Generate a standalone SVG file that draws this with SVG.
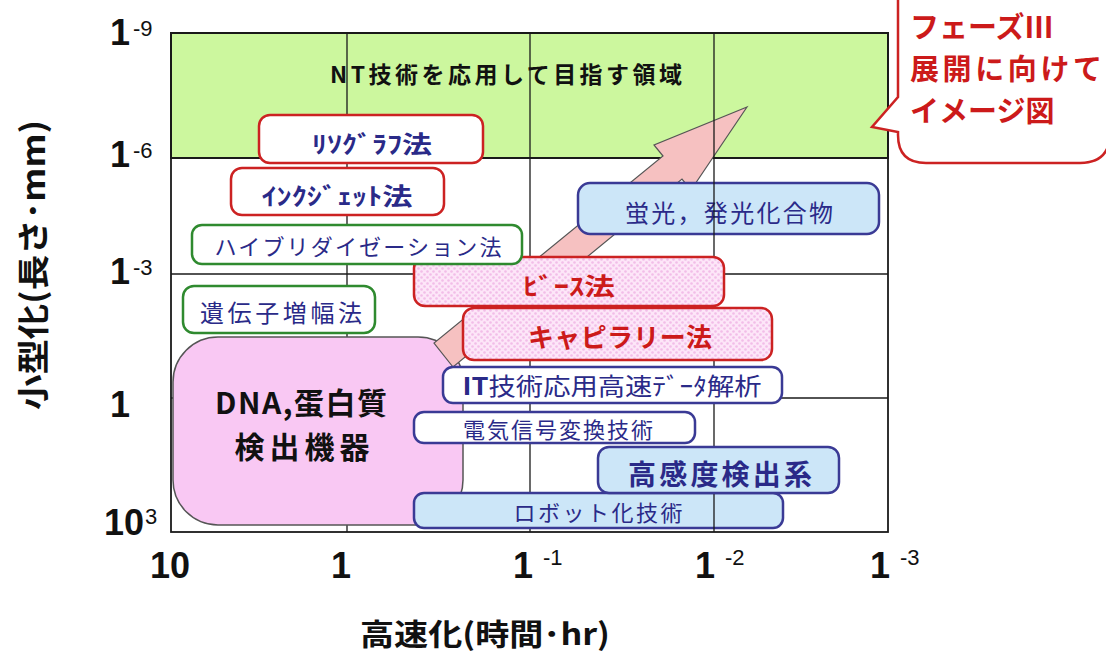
<svg xmlns="http://www.w3.org/2000/svg" width="1106" height="655" viewBox="0 0 1106 655">
<defs>
<pattern id="dots" width="6" height="6" patternUnits="userSpaceOnUse"><rect width="6" height="6" fill="#fde6f8"/><circle cx="1.5" cy="1.5" r="1.3" fill="#f2bde8"/><circle cx="4.5" cy="4.5" r="1.3" fill="#f2bde8"/></pattern>
<style>
.cjk{font-family:"Noto Sans CJK JP","Noto Sans",sans-serif}
.num{font-family:"Liberation Sans",Arial,sans-serif}
.red{fill:#cc1a1a}
.navy{fill:#2a2a88}
.grid{stroke:#1a1a1a;fill:none}
.bwr{fill:#fff;stroke:#cc2222;stroke-width:2.5}
.bwg{fill:#fff;stroke:#2f8a2f;stroke-width:2.5}
.bpr{fill:url(#dots);stroke:#cc2222;stroke-width:2.5}
.bb{fill:#cce6f8;stroke:#3a3a95;stroke-width:2.5}
.bwb{fill:#fff;stroke:#3a3a95;stroke-width:2.5}
</style>
</defs>
<rect width="1106" height="655" fill="#fff"/>

<g id="nt-region">
<rect x="171" y="33" width="717" height="125" fill="#ccf79e" stroke="#1a1a1a" stroke-width="2"/>
<text class="cjk" x="506" y="83" font-size="23" font-weight="bold" text-anchor="middle" textLength="352" fill="#111">NT技術を応用して目指す領域</text>
</g>

<g id="grid">
<line class="grid" x1="171" y1="158" x2="888" y2="158" stroke-width="2"/>
<line class="grid" x1="171" y1="274" x2="888" y2="274" stroke-width="1.3"/>
<line class="grid" x1="171" y1="398" x2="888" y2="398" stroke-width="1.3"/>
<rect class="grid" x="171" y="33" width="717" height="499" stroke-width="1.8"/>
<line class="grid" x1="347" y1="33" x2="347" y2="532" stroke-width="1.3"/>
<line class="grid" x1="530" y1="33" x2="530" y2="532" stroke-width="1.3"/>
</g>

<g id="dna">
<rect x="173" y="337" width="290" height="188" rx="45" fill="#f9c8f3" stroke="#555" stroke-width="1.5"/>
<text class="cjk" x="301" y="414" font-size="30" font-weight="bold" text-anchor="middle" textLength="172" fill="#111">DNA,蛋白質</text>
<text class="cjk" x="302" y="458" font-size="30" font-weight="bold" text-anchor="middle" textLength="135" fill="#111">検出機器</text>
</g>

<g id="connectors">
<polygon points="747,107 691,190 682,179 453,367 434,343 663,156 654,145" fill="#f6c1c1" stroke="#555" stroke-width="1.2"/>
</g>

<g id="robot">
<rect class="bb" x="414" y="493" width="369" height="35" rx="10"/>
<text class="cjk navy" x="598" y="521" font-size="22" text-anchor="middle" textLength="169">ロボット化技術</text>
</g>

<g id="keiko">
<rect class="bb" x="578" y="183" width="301" height="51" rx="12"/>
<text class="cjk navy" x="729" y="222" font-size="24" text-anchor="middle" textLength="208">蛍光，発光化合物</text>
</g>

<line class="grid" x1="714" y1="33" x2="714" y2="532" stroke-width="1.3"/>

<g id="kokando">
<rect class="bb" x="598" y="447" width="241" height="46" rx="11"/>
<text class="cjk navy" x="720" y="485" font-size="28" font-weight="bold" text-anchor="middle" textLength="184">高感度検出系</text>
</g>

<g id="denki">
<rect class="bwb" x="414" y="412" width="281" height="31" rx="10"/>
<text class="cjk navy" x="558" y="438" font-size="22" text-anchor="middle" textLength="190">電気信号変換技術</text>
</g>

<g id="it">
<rect class="bwb" x="443" y="367" width="339" height="36" rx="10"/>
<text class="cjk navy" x="612" y="395" font-size="24" text-anchor="middle" textLength="299" lengthAdjust="spacingAndGlyphs"><tspan font-weight="bold">IT</tspan>技術応用高速ﾃﾞｰﾀ解析</text>
</g>

<g id="capillary">
<rect class="bpr" x="463" y="308" width="309" height="52" rx="11"/>
<text class="cjk red" x="620" y="347" font-size="26" font-weight="bold" text-anchor="middle" textLength="184">キャピラリー法</text>
</g>

<g id="beads">
<rect class="bpr" x="414" y="257" width="310" height="49" rx="11"/>
<text class="cjk red" x="569" y="295" font-size="24" font-weight="bold" text-anchor="middle" textLength="92" lengthAdjust="spacingAndGlyphs">ﾋﾞｰｽ法</text>
</g>

<g id="hybrid">
<rect class="bwg" x="192" y="225" width="330" height="39" rx="10"/>
<text class="cjk navy" x="358" y="255" font-size="22" text-anchor="middle" textLength="287">ハイブリダイゼーション法</text>
</g>

<g id="pcr">
<rect class="bwg" x="183" y="286" width="192" height="47" rx="11"/>
<text class="cjk navy" x="281" y="322" font-size="24" text-anchor="middle" textLength="162">遺伝子増幅法</text>
</g>

<g id="inkjet">
<rect class="bwr" x="231" y="168" width="213" height="47" rx="11"/>
<text class="cjk navy" x="337" y="205" font-size="24" font-weight="bold" text-anchor="middle" textLength="151" lengthAdjust="spacingAndGlyphs">ｲﾝｸｼﾞｪｯﾄ法</text>
</g>

<g id="litho">
<rect class="bwr" x="259" y="115" width="224" height="48" rx="11"/>
<text class="cjk navy" x="372" y="153" font-size="24" font-weight="bold" text-anchor="middle" textLength="120" lengthAdjust="spacingAndGlyphs">ﾘｿｸﾞﾗﾌ法</text>
</g>

<g id="callout">
<path d="M928,-30 H1080 Q1110,-30 1110,0 V133 Q1110,163 1080,163 H926 Q898,163 898,135 V132 L872,127 L898,97 V0 Q898,-30 928,-30 Z" fill="#fff" stroke="#cc2222" stroke-width="2.5"/>
<text class="cjk red" font-size="29" font-weight="bold"><tspan x="910" y="38">フェーズⅢ</tspan><tspan x="910" y="80" textLength="192">展開に向けて</tspan><tspan x="910" y="122">イメージ図</tspan></text>
</g>

<g id="y-axis">
<text class="num" font-size="36" font-weight="bold" fill="#111"><tspan x="110" y="45">1</tspan><tspan x="133" y="36" font-size="22" font-weight="normal">-9</tspan></text>
<text class="num" font-size="36" font-weight="bold" fill="#111"><tspan x="110" y="167">1</tspan><tspan x="133" y="158" font-size="22" font-weight="normal">-6</tspan></text>
<text class="num" font-size="36" font-weight="bold" fill="#111"><tspan x="110" y="284">1</tspan><tspan x="133" y="275" font-size="22" font-weight="normal">-3</tspan></text>
<text class="num" x="110" y="417" font-size="36" font-weight="bold" fill="#111">1</text>
<text class="num" font-size="36" font-weight="bold" fill="#111"><tspan x="104" y="535">10</tspan><tspan x="145" y="524" font-size="22" font-weight="normal">3</tspan></text>
<text class="cjk" transform="translate(45,265) rotate(-90)" font-size="32" font-weight="bold" text-anchor="middle" textLength="290" lengthAdjust="spacingAndGlyphs" fill="#111">小型化(長さ･mm)</text>
</g>

<g id="x-axis">
<text class="num" x="150" y="578" font-size="36" font-weight="bold" fill="#111">10</text>
<text class="num" x="331" y="578" font-size="36" font-weight="bold" fill="#111">1</text>
<text class="num" font-size="36" font-weight="bold" fill="#111"><tspan x="513" y="578">1</tspan><tspan x="543" y="565" font-size="22" font-weight="normal">-1</tspan></text>
<text class="num" font-size="36" font-weight="bold" fill="#111"><tspan x="695" y="578">1</tspan><tspan x="725" y="565" font-size="22" font-weight="normal">-2</tspan></text>
<text class="num" font-size="36" font-weight="bold" fill="#111"><tspan x="870" y="578">1</tspan><tspan x="900" y="565" font-size="22" font-weight="normal">-3</tspan></text>
<text class="cjk" x="485" y="645" font-size="30" font-weight="bold" text-anchor="middle" textLength="250" lengthAdjust="spacingAndGlyphs" fill="#111">高速化(時間･hr)</text>
</g>
</svg>
